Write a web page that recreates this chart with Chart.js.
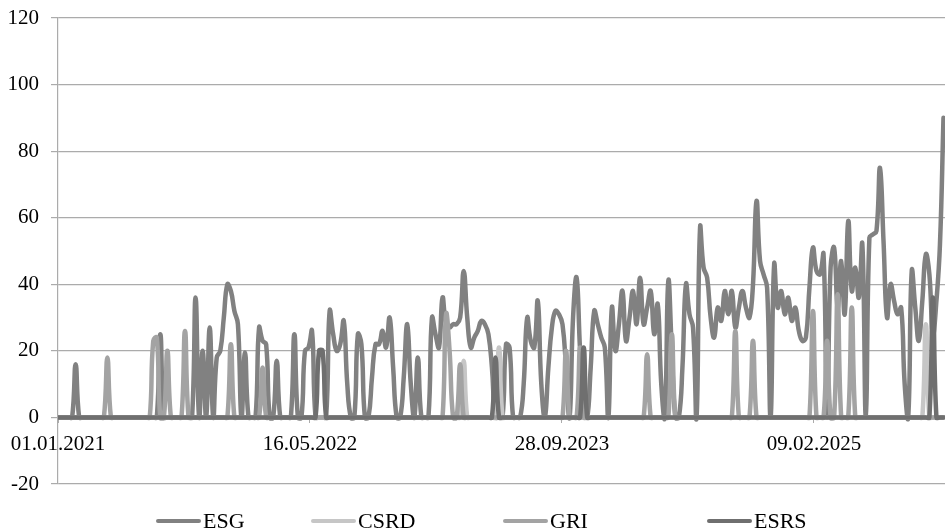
<!DOCTYPE html>
<html>
<head>
<meta charset="utf-8">
<script src="https://cdn.jsdelivr.net/npm/chart.js@4.4.1/dist/chart.umd.min.js"></script>
<style>
    html, body { margin: 0; padding: 0; background: #fff; }
    #wrap { position: relative; width: 945px; height: 532px; }
    #legend { position: absolute; left: 0; top: 508px; width: 945px; height: 26px;
              font-family: "Liberation Serif", "Times New Roman", serif; font-size: 22px; color: #000; }
    .item { position: absolute; top: 0; height: 26px; display: flex; align-items: center; white-space: nowrap; }
    .swatch { display: inline-block; width: 45px; height: 4.5px; border-radius: 2px; margin-right: 2px; }
</style>
</head>
<body>
<div id="wrap">
    <canvas id="trendChart" width="945" height="532"></canvas>
    <div id="legend"></div>
</div>
<script>
// 週次數據 (從 01.01.2021 起, 每週一個點)
const seriesNames = ['ESG', 'CSRD', 'GRI', 'ESRS'];
const seriesColors = ['#818181', '#c6c6c6', '#a3a3a3', '#6f6f6f'];
const tickLabels = ['01.01.2021', '16.05.2022', '28.09.2023', '09.02.2025'];

const esg = [
    0, 0, 0, 0, 0, 16, 0, 0, 0, 0, 0, 0,
    0, 0, 0, 0, 0, 0, 0, 0, 0, 0, 0, 0,
    0, 0, 0, 0, 0, 25, 0, 0, 0, 0, 0, 0,
    0, 0, 0, 36, 0, 20, 0, 27, 0, 18, 20, 30,
    40, 38, 32, 28, 0, 19.5, 0, 0, 0, 27, 23, 22,
    0, 0, 17, 0, 0, 0, 0, 25, 0, 0, 20, 21,
    26, 0, 0, 0, 0, 32, 25, 20, 22, 29, 10, 0,
    0, 25, 22, 0, 0, 12, 22, 22, 26, 21, 30, 15,
    0, 0, 12, 28, 10, 0, 18, 0, 0, 0, 30, 25,
    21, 36, 28, 27, 28, 28, 30, 44, 30, 21, 24, 26,
    29, 28, 25, 15, 0, 0, 0, 22, 21, 0, 0, 0,
    10, 30, 23, 21, 35, 10, 0, 15, 27, 32, 31, 28,
    15, 0, 30, 42, 20, 5, 0, 15, 32, 28, 24, 21,
    0, 33, 20, 28, 38, 23, 30, 38, 28, 42, 28, 33,
    38, 25, 34, 10, 0, 41, 20, 0, 0, 15, 40, 31,
    27, 0, 57, 45, 42, 30, 24, 33, 29, 38, 31, 38,
    27, 33, 38, 33, 30, 40, 65, 47, 43, 39, 0, 46,
    33, 38, 31, 36, 29, 33, 26, 23, 24, 39, 51, 44,
    43, 49, 0, 45, 51, 33, 47, 31, 59, 38, 45, 36,
    52, 0, 54, 55, 56, 75, 53, 30, 40, 35, 31, 33,
    10, 0, 44, 33, 23, 35, 49, 43, 25, 35, 52, 90
];

const csrd = [
    0, 0, 0, 0, 0, 0, 0, 0, 0, 0, 0, 0,
    0, 0, 0, 0, 0, 0, 0, 0, 0, 0, 0, 0,
    0, 0, 0, 0, 0, 0, 0, 0, 0, 0, 0, 0,
    0, 0, 0, 0, 0, 0, 0, 0, 0, 0, 0, 0,
    0, 0, 0, 0, 0, 0, 0, 0, 0, 0, 0, 0,
    0, 0, 0, 0, 0, 0, 0, 0, 0, 0, 0, 0,
    0, 0, 0, 0, 0, 0, 0, 0, 0, 0, 0, 0,
    0, 0, 0, 0, 0, 0, 0, 0, 0, 0, 0, 0,
    0, 0, 0, 0, 0, 0, 0, 0, 0, 0, 0, 0,
    0, 0, 0, 0, 0, 0, 0, 17, 0, 0, 0, 0,
    0, 0, 0, 0, 0, 21, 0, 0, 0, 0, 0, 0,
    0, 0, 0, 0, 0, 0, 0, 0, 0, 0, 0, 0,
    0, 0, 0, 0, 0, 0, 0, 0, 0, 0, 0, 0,
    0, 0, 0, 0, 0, 0, 0, 0, 0, 0, 0, 0,
    0, 0, 0, 0, 0, 0, 0, 0, 0, 0, 0, 0,
    0, 0, 0, 0, 0, 0, 0, 0, 0, 0, 0, 0,
    0, 0, 0, 0, 0, 0, 0, 0, 0, 0, 0, 0,
    0, 0, 0, 0, 0, 0, 0, 0, 0, 0, 0, 0,
    0, 0, 0, 0, 0, 0, 0, 0, 0, 0, 0, 0,
    0, 0, 0, 0, 0, 0, 0, 0, 0, 0, 0, 0,
    0, 0, 0, 0, 0, 0, 28, 0, 0, 0, 0, 0
];

const gri = [
    0, 0, 0, 0, 0, 0, 0, 0, 0, 0, 0, 0,
    0, 0, 18, 0, 0, 0, 0, 0, 0, 0, 0, 0,
    0, 0, 0, 23, 24, 0, 0, 20, 0, 0, 0, 0,
    26, 0, 0, 0, 0, 0, 0, 0, 0, 0, 0, 0,
    0, 22, 0, 0, 0, 0, 0, 0, 0, 0, 15, 0,
    0, 0, 0, 0, 0, 0, 0, 0, 0, 0, 0, 0,
    0, 0, 0, 0, 0, 0, 0, 0, 0, 0, 0, 0,
    0, 0, 0, 0, 0, 0, 0, 0, 0, 0, 0, 0,
    0, 0, 0, 0, 0, 0, 0, 0, 0, 0, 0, 0,
    0, 0, 31, 20, 0, 0, 16, 0, 0, 0, 0, 0,
    0, 0, 0, 0, 0, 0, 0, 0, 0, 0, 0, 0,
    0, 0, 0, 0, 0, 0, 0, 0, 0, 0, 0, 0,
    20, 0, 0, 0, 21, 0, 0, 0, 0, 0, 0, 0,
    0, 0, 0, 0, 0, 0, 0, 0, 0, 0, 0, 19,
    0, 0, 0, 0, 0, 0, 25, 0, 0, 0, 0, 0,
    0, 0, 0, 0, 0, 0, 0, 0, 0, 0, 0, 0,
    26, 0, 0, 0, 0, 23, 0, 0, 0, 0, 0, 0,
    0, 0, 0, 0, 0, 0, 0, 0, 0, 0, 32, 0,
    0, 0, 23, 0, 0, 37, 0, 0, 0, 33, 0, 0,
    0, 0, 0, 0, 0, 0, 0, 0, 0, 0, 0, 0,
    0, 0, 0, 0, 0, 0, 0, 0, 0, 0, 0, 0
];

const esrs = [
    0, 0, 0, 0, 0, 0, 0, 0, 0, 0, 0, 0,
    0, 0, 0, 0, 0, 0, 0, 0, 0, 0, 0, 0,
    0, 0, 0, 0, 0, 0, 0, 0, 0, 0, 0, 0,
    0, 0, 0, 0, 0, 0, 0, 0, 0, 0, 0, 0,
    0, 0, 0, 0, 0, 0, 0, 0, 0, 0, 0, 0,
    0, 0, 0, 0, 0, 0, 0, 0, 0, 0, 0, 0,
    0, 0, 20, 20, 0, 0, 0, 0, 0, 0, 0, 0,
    0, 0, 0, 0, 0, 0, 0, 0, 0, 0, 0, 0,
    0, 0, 0, 0, 0, 0, 0, 0, 0, 0, 0, 0,
    0, 0, 0, 0, 0, 0, 0, 0, 0, 0, 0, 0,
    0, 0, 0, 0, 18, 0, 0, 0, 0, 0, 0, 0,
    0, 0, 0, 0, 0, 0, 0, 0, 0, 0, 0, 0,
    0, 0, 0, 0, 0, 21, 0, 0, 0, 0, 0, 0,
    0, 0, 0, 0, 0, 0, 0, 0, 0, 0, 0, 0,
    0, 0, 0, 0, 0, 0, 0, 0, 0, 0, 0, 0,
    0, 0, 0, 0, 0, 0, 0, 0, 0, 0, 0, 0,
    0, 0, 0, 0, 0, 0, 0, 0, 0, 0, 0, 0,
    0, 0, 0, 0, 0, 0, 0, 0, 0, 0, 0, 0,
    0, 0, 0, 0, 0, 0, 0, 0, 0, 0, 0, 0,
    0, 0, 0, 0, 0, 0, 0, 0, 0, 0, 0, 0,
    0, 0, 0, 0, 0, 0, 0, 0, 36, 0, 0, 0
];

// 日期 -> 距起始日的天數
function dayOffset(label) {
    const [d, m, y] = label.split('.').map(Number);
    const [d0, m0, y0] = tickLabels[0].split('.').map(Number);
    return (Date.UTC(y, m - 1, d) - Date.UTC(y0, m0 - 1, d0)) / 864e5;
}
const tickDays = tickLabels.map(dayOffset);

const allSeries = [esg, csrd, gri, esrs];
const datasets = allSeries.map((vals, k) => ({
    label: seriesNames[k],
    data: vals.map((v, i) => ({ x: i * 7, y: v })),
    borderColor: seriesColors[k],
    backgroundColor: seriesColors[k],
    borderWidth: 4.5,
    pointRadius: 0,
    tension: 0.45,
    borderJoinStyle: 'round',
    borderCapStyle: 'round',
    order: allSeries.length - 1 - k   // ESRS 畫在最上層
}));

const font = { family: '"Liberation Serif", "Times New Roman", serif', size: 21 };
const gridColor = '#ababab';

const ctx = document.getElementById('trendChart').getContext('2d');
new Chart(ctx, {
    type: 'line',
    data: { datasets },
    options: {
        responsive: false,
        animation: false,
        layout: { padding: { top: 18, bottom: 48, left: 0, right: 0 } },
        plugins: {
            legend: { display: false },
            tooltip: { enabled: false }
        },
        scales: {
            x: {
                type: 'linear',
                min: 0,
                max: 1760,
                position: { y: 0 },
                afterBuildTicks: (scale) => {
                    scale.ticks = tickDays.map(v => ({ value: v }));
                },
                ticks: {
                    font,
                    color: '#000',
                    padding: 9,
                    maxRotation: 0,
                    autoSkip: false,
                    callback: (value, index) => tickLabels[index]
                },
                grid: { drawOnChartArea: false, drawTicks: true, tickLength: 5, color: gridColor },
                border: { color: gridColor, width: 1 }
            },
            y: {
                min: -20,
                max: 120,
                ticks: { stepSize: 20, font, color: '#000', padding: 12 },
                grid: { color: gridColor, lineWidth: 1.2, tickLength: 7 },
                border: { color: gridColor, width: 1.2 },
                afterFit: (scale) => {
                    scale.width = 58;
                    scale.paddingTop = 0;
                    scale.paddingBottom = 0;
                }
            }
        }
    }
});

// 圖例 (Excel 式的位置)
const legendLeft = [156, 311, 503, 707];
const legend = document.getElementById('legend');
seriesNames.forEach((name, k) => {
    const item = document.createElement('div');
    item.className = 'item';
    item.style.left = legendLeft[k] + 'px';
    item.innerHTML = `<span class="swatch" style="background:${seriesColors[k]}"></span><span>${name}</span>`;
    legend.appendChild(item);
});
</script>
</body>
</html>
